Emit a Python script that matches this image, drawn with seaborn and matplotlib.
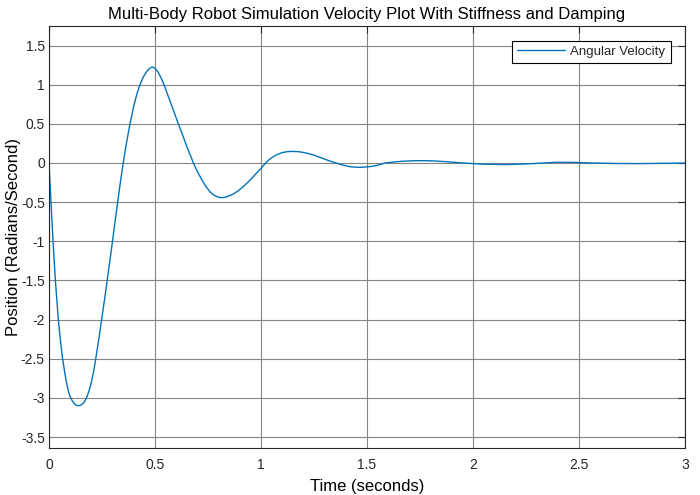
import numpy as np
import pandas as pd
import matplotlib
matplotlib.use("Agg")
import matplotlib.pyplot as plt
import seaborn as sb

# values
time_s = [0.000, 0.005, 0.0094, 0.019, 0.030, 0.044, 0.054, 0.064, 0.080, 0.090,
          0.099, 0.110, 0.120, 0.130, 0.138, 0.146, 0.156, 0.167, 0.178, 0.190,
          0.200, 0.210, 0.217, 0.231, 0.245, 0.259, 0.273, 0.285, 0.298, 0.310,
          0.323, 0.336, 0.350, 0.366, 0.382, 0.400, 0.415, 0.429, 0.445, 0.460,
          0.475, 0.487, 0.500, 0.515, 0.530, 0.5425, 0.560, 0.575, 0.590, 0.610,
          0.630, 0.650, 0.665, 0.681, 0.700, 0.720, 0.740, 0.760, 0.780, 0.800,
          0.815, 0.830, 0.850, 0.870, 0.890, 0.915, 0.940, 0.965, 0.985, 1.000,
          1.022, 1.042, 1.070, 1.100, 1.125, 1.149, 1.175, 1.200, 1.225,
          1.250, 1.275, 1.300, 1.325, 1.350, 1.380, 1.420, 1.467, 1.520, 1.555,
          1.585, 1.620, 1.660, 1.710, 1.766, 1.820, 1.880, 1.953, 2.000, 2.060,
          2.160, 2.250, 2.320, 2.390, 2.470, 2.560, 2.670, 2.780, 2.900, 3.000]
ang_vel = [0.000, -0.27, -0.50, -1.00, -1.50, -2.00, -2.27, -2.50, -2.77, -2.90,
           -2.98, -3.04, -3.075, -3.095, -3.10, -3.097, -3.082, -3.05, -2.995, -2.90,
           -2.80, -2.67, -2.56, -2.32, -2.06, -1.80, -1.53, -1.29, -1.03, -0.78,
           -0.52, -0.26, 0.00, 0.265, 0.50, 0.73, 0.885, 1.00, 1.10, 1.165,
           1.21, 1.226, 1.21, 1.16, 1.08, 1.00, 0.87, 0.76, 0.65, 0.50,
           0.36, 0.21, 0.11, 0.00, -0.11, -0.21, -0.30, -0.37, -0.415, -0.438,
           -0.443, -0.438, -0.42, -0.395, -0.36, -0.305, -0.24, -0.17, -0.112, -0.068,
           0.000, 0.052, 0.10, 0.133, 0.145, 0.148, 0.145, 0.135, 0.12,
           0.10, 0.075, 0.05, 0.025, 0.003, -0.022, -0.048, -0.056, -0.045, -0.025,
           0.000, 0.011, 0.021, 0.028, 0.030, 0.026, 0.015, 0.000, -0.008, -0.016,
           -0.020, -0.012, -0.002, 0.009, 0.008, 0.000, -0.006, -0.008, -0.004, -0.001]

x_ticks = [0, 0.5, 1, 1.5, 2, 2.5, 3]
x_tick_labels = ["0", "0.5", "1", "1.5", "2", "2.5", "3"]
y_ticks = [-3.5, -3, -2.5, -2, -1.5, -1, -0.5, 0, 0.5, 1, 1.5]
y_tick_labels = ["-3.5", "-3", "-2.5", "-2", "-1.5", "-1", "-0.5", "0", "0.5", "1", "1.5"]

data = pd.DataFrame({"Time": time_s, "Velocity": ang_vel})

sb.set_style("white")
plt.rcParams['font.family'] = ['Liberation Sans', 'DejaVu Sans']

fig, ax = plt.subplots(figsize=(7, 4.95), dpi=100)
fig.subplots_adjust(left=0.07, right=0.9786, top=0.9475, bottom=0.095)

sb.lineplot(x="Time", y="Velocity", data=data, ax=ax, color="#0072BD",
            linewidth=1.0, label="Angular Velocity", sort=False)

ax.set_xlim(0, 3)
ax.set_ylim(-3.64, 1.75)
ax.set_xticks(x_ticks)
ax.set_xticklabels(x_tick_labels)
ax.set_yticks(y_ticks)
ax.set_yticklabels(y_tick_labels)

ax.grid(True, color="#858585", linewidth=0.8)
ax.set_axisbelow(True)
for s in ax.spines.values():
    s.set_color("#262626")
    s.set_linewidth(0.8)
ax.tick_params(direction="in", length=5, width=0.8, top=True, right=True,
               labelsize=10, colors="#262626")
ax.tick_params(axis="x", pad=7)
ax.tick_params(axis="y", pad=3)

ax.set_xlabel("Time (seconds)", fontsize=12, color="black", labelpad=5)
ax.set_ylabel("Position (Radians/Second)", fontsize=12, color="black", labelpad=0)
ax.set_title("Multi-Body Robot Simulation Velocity Plot With Stiffness and Damping",
             fontsize=12, color="black", pad=5)

leg = ax.legend(loc="upper right", fontsize=9.5, frameon=True, fancybox=False,
                handlelength=3.6, handletextpad=0.4, borderaxespad=1.1,
                borderpad=0.4, framealpha=1)
leg.get_frame().set_edgecolor("black")
leg.get_frame().set_linewidth(0.8)

plt.savefig("out.png", dpi=100)
